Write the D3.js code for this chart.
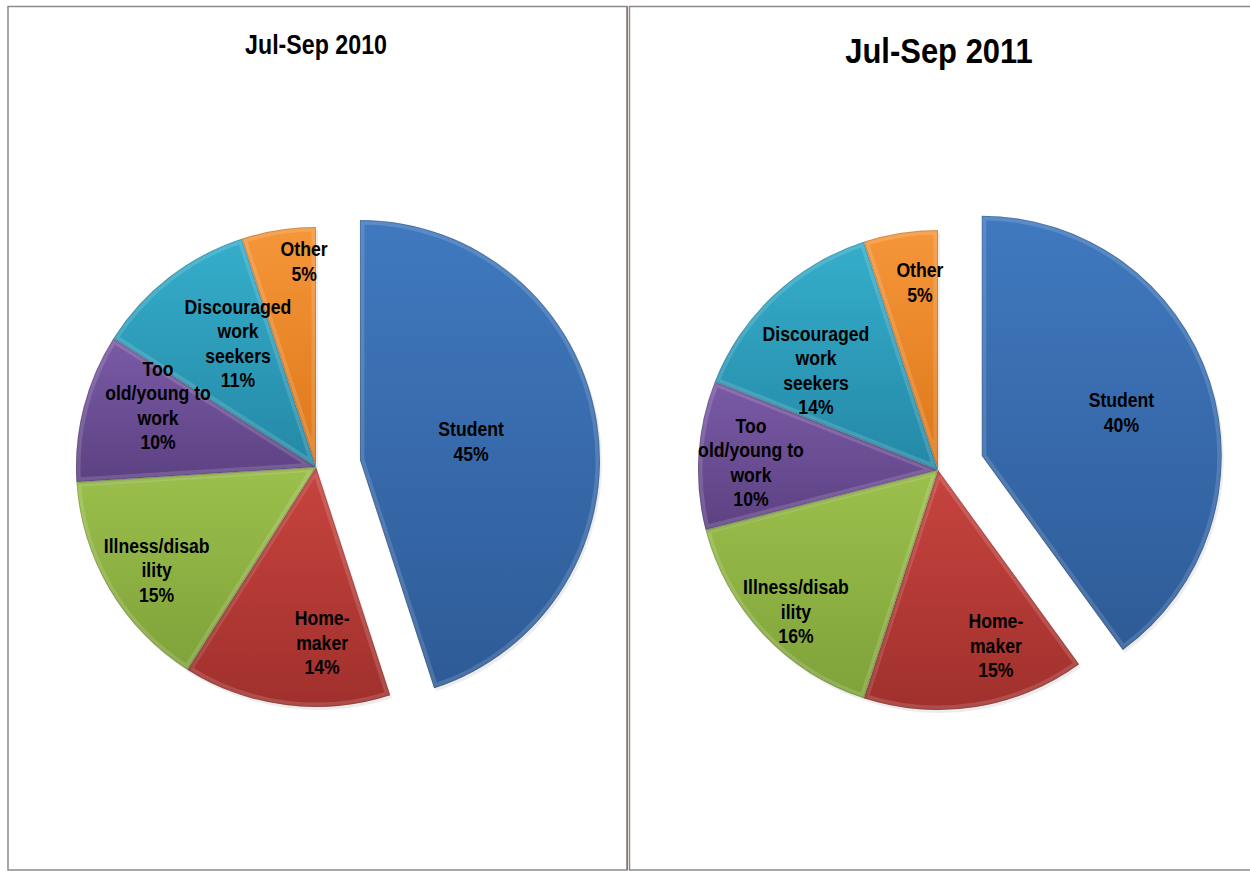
<!DOCTYPE html>
<html>
<head>
<meta charset="utf-8">
<script src="https://cdn.jsdelivr.net/npm/d3@7"></script>
<style>
  html, body { margin: 0; padding: 0; background: #fff; }
  svg { display: block; }
  .lbl { font-family: "Liberation Sans Narrow", "Arial Narrow", "Liberation Sans", Arial, sans-serif; font-weight: bold; fill: #000; }
</style>
</head>
<body>
<svg id="chart" width="1250" height="871"></svg>
<script>
// ---- data ----
const categories = ["Student", "Home-maker", "Illness/disability", "Too old/young to work", "Discouraged work seekers", "Other"];
const labelLines = [
  ["Student"],
  ["Home-", "maker"],
  ["Illness/disab", "ility"],
  ["Too", "old/young to", "work"],
  ["Discouraged", "work", "seekers"],
  ["Other"]
];
const values2010 = [45, 14, 15, 10, 11, 5];
const values2011 = [40, 15, 16, 10, 14, 5];
const titles = ["Jul-Sep 2010", "Jul-Sep 2011"];

// ---- styling / layout (not data) ----
const colors = [
  ["#4079bf", "#2e5b97"],
  ["#c8443f", "#a0302c"],
  ["#9cc04c", "#7fa23a"],
  ["#7a5aa6", "#5c4182"],
  ["#35aecb", "#2488a6"],
  ["#f5963a", "#dd7718"]
];
const panels = [
  { values: values2010, title: titles[0], cx: 316, cy: 467, r: 240, explode: 44.5, titleX: 316, titleY: 54, titleSize: 27,
    lab: [[0.47, -0.7], [0.73, -9.2], [0.79, -2.2], [0.707, 7.0], [0.61, 5.6], [0.86, 5.7]] },
  { values: values2011, title: titles[1], cx: 938, cy: 470, r: 240, explode: 46, titleX: 939, titleY: 63, titleSize: 36,
    lab: [[0.61, 0.6], [0.768, -9.3], [0.834, -1.6], [0.78, -1.2], [0.657, -7.5], [0.787, 3.5]] }
];
const condense = 0.86;

const svg = d3.select("#chart");
const defs = svg.append("defs");

// frames
const frameColor = "#8a8a8a";
svg.append("rect").attr("x", 8).attr("y", 6.5).attr("width", 619).attr("height", 863.5)
  .attr("fill", "none").attr("stroke", frameColor).attr("stroke-width", 1.5);
svg.append("rect").attr("x", 629.5).attr("y", 6.5).attr("width", 640).attr("height", 863.5)
  .attr("fill", "none").attr("stroke", frameColor).attr("stroke-width", 1.5);
svg.append("line").attr("x1", 627.3).attr("x2", 627.3).attr("y1", 6.5).attr("y2", 870)
  .attr("stroke", "#c0392b").attr("stroke-width", 0.8);

// gradients
colors.forEach((c, i) => {
  const g = defs.append("linearGradient").attr("id", "grad" + i)
    .attr("x1", 0).attr("y1", 0).attr("x2", 0).attr("y2", 1);
  g.append("stop").attr("offset", "0%").attr("stop-color", c[0]);
  g.append("stop").attr("offset", "100%").attr("stop-color", c[1]);
});

const pie = d3.pie().sort(null).value(d => d);

panels.forEach((p, pi) => {
  const g = svg.append("g");
  g.append("text").attr("class", "lbl").attr("text-anchor", "middle")
    .attr("transform", `translate(${p.titleX},${p.titleY}) scale(${condense},1)`)
    .style("font-size", p.titleSize + "px").text(p.title);

  const arcs = pie(p.values);
  const arc = d3.arc().innerRadius(0).outerRadius(p.r);
  const sliceLayer = g.append("g");
  const labelLayer = g.append("g");

  arcs.forEach((a, i) => {
    const mid = (a.startAngle + a.endAngle) / 2;
    const off = i === 0 ? p.explode : 0;
    const ox = p.cx + Math.sin(mid) * off;
    const oy = p.cy - Math.cos(mid) * off;
    const sg = sliceLayer.append("g").attr("transform", `translate(${ox},${oy})`);
    const d = arc(a);
    const clipId = `clip${pi}_${i}`;
    defs.append("clipPath").attr("id", clipId).append("path").attr("d", d);
    sg.append("path").attr("d", d).attr("fill", "#000").attr("opacity", 0.07)
      .attr("transform", "translate(2,3)");
    sg.append("path").attr("d", d).attr("fill", `url(#grad${i})`);
    // bevel highlight / edge
    sg.append("path").attr("d", d).attr("fill", "none").attr("stroke", "#fff")
      .attr("stroke-opacity", 0.14).attr("stroke-width", 9).attr("clip-path", `url(#${clipId})`);
    sg.append("path").attr("d", d).attr("fill", "none").attr("stroke", "#000")
      .attr("stroke-opacity", 0.15).attr("stroke-width", 2).attr("clip-path", `url(#${clipId})`);

    // label (drawn on top layer)
    const [rf, dAng] = p.lab[i];
    const ang = mid + dAng * Math.PI / 180;
    const lx = ox + Math.sin(ang) * rf * p.r;
    const ly = oy - Math.cos(ang) * rf * p.r;
    const lines = labelLines[i].concat([d3.format(".0%")(a.data / 100)]);
    const lh = 24.5;
    const t = labelLayer.append("text").attr("class", "lbl").attr("text-anchor", "middle")
      .attr("transform", `translate(${lx},${ly}) scale(${condense},1)`)
      .style("font-size", "20.5px");
    lines.forEach((ln, k) => {
      t.append("tspan").attr("x", 0)
        .attr("y", (k - (lines.length - 1) / 2) * lh + 7.5).text(ln);
    });
  });
});
</script>
</body>
</html>
